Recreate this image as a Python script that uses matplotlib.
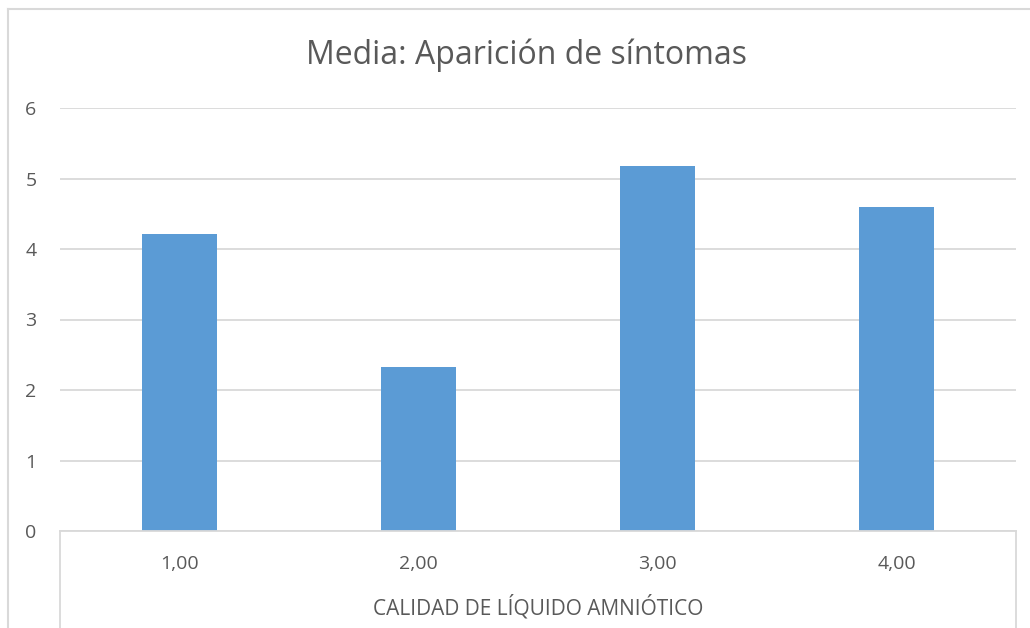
import matplotlib.pyplot as plt
from matplotlib.lines import Line2D

categories = ["1,00", "2,00", "3,00", "4,00"]
values = [4.21, 2.33, 5.18, 4.60]
yticks = [0, 1, 2, 3, 4, 5, 6]

plt.rcParams['font.family'] = ['Open Sans', 'DejaVu Sans']
text_color = '#595959'
grid_color = '#d9d9d9'
bar_color = '#5b9bd5'

W, H = 1030, 628
fig = plt.figure(figsize=(W / 100, H / 100), dpi=100)
ax = fig.add_axes([60 / W, (H - 531) / H, (1016 - 60) / W, (531 - 108) / H])

x = range(len(categories))
ax.bar(x, values, width=0.314, color=bar_color, zorder=3)
ax.set_xlim(-0.5, len(categories) - 0.5)
ax.set_ylim(0, 6)
ax.set_yticks(yticks)
ax.set_yticklabels([str(v) for v in yticks])
ax.set_xticks(list(x))
ax.set_xticklabels(categories)
ax.tick_params(axis='both', length=0, labelsize=14, colors=text_color)
ax.tick_params(axis='y', pad=17)
ax.tick_params(axis='x', pad=17)
ax.yaxis.grid(True, color=grid_color, linewidth=1.3, zorder=0)
for s in ax.spines.values():
    s.set_visible(False)

# category axis box
fig.add_artist(Line2D([60 / W, 1016 / W], [(H - 531) / H] * 2, color=grid_color, lw=1.3))
fig.add_artist(Line2D([60 / W] * 2, [(H - 531) / H, 0], color=grid_color, lw=1.3))
fig.add_artist(Line2D([1016 / W] * 2, [(H - 531) / H, 0], color=grid_color, lw=1.3))

# chart border (left and top edges visible)
fig.add_artist(Line2D([8 / W] * 2, [0, (H - 9) / H], color=grid_color, lw=1.5))
fig.add_artist(Line2D([8 / W, 1], [(H - 9) / H] * 2, color=grid_color, lw=1.5))

fig.text(527 / W, (H - 55) / H, "Media: Aparición de síntomas", ha='center', va='center',
         fontsize=23, color=text_color)
fig.text(538 / W, (H - 607) / H, "CALIDAD DE LÍQUIDO AMNIÓTICO", ha='center', va='center',
         fontsize=15, color=text_color)

fig.savefig("out.png", dpi=100, facecolor='white')
